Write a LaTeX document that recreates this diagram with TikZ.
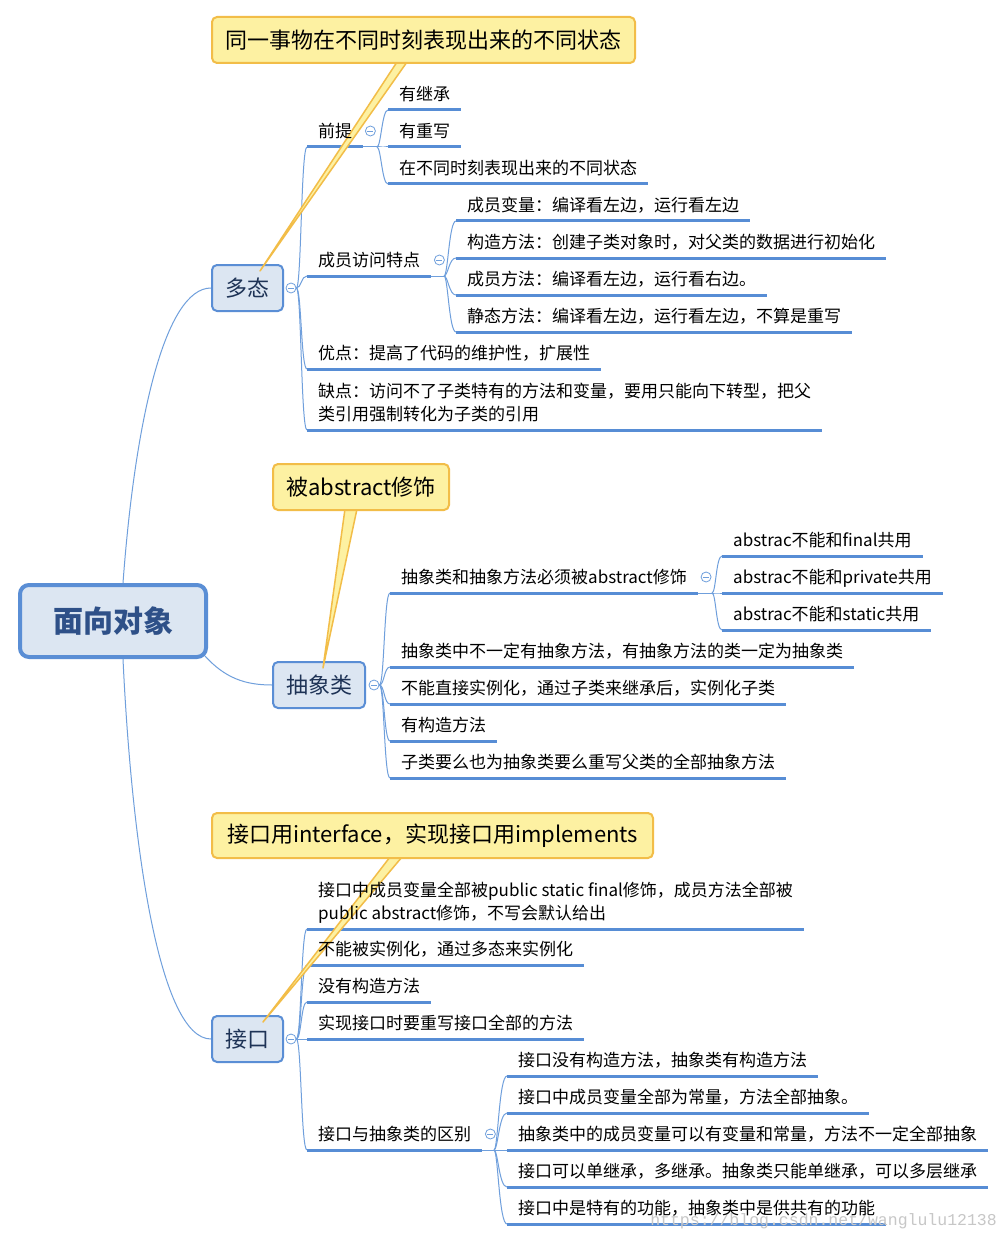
\documentclass[tikz,border=0pt]{standalone}
\usepackage{fontspec}
\setmainfont{Noto Sans CJK SC}
\newfontfamily\wmfont{Liberation Mono}
\usetikzlibrary{calc}
\pgfdeclarelayer{fg}
\pgfsetlayers{main,fg}
\definecolor{boxblue}{RGB}{90,142,213}
\definecolor{boxfill}{RGB}{220,230,242}
\definecolor{connblue}{RGB}{111,159,220}
\definecolor{ublue}{RGB}{87,141,213}
\definecolor{topictext}{RGB}{30,51,86}
\definecolor{roottext}{RGB}{46,80,136}
\definecolor{callfill}{RGB}{253,241,162}
\definecolor{callborder}{RGB}{242,189,72}
\begin{document}
\begin{tikzpicture}[x=1pt,y=-1pt,
  leaf/.style={font=\fontsize{17}{23}\selectfont, inner xsep=11pt, inner ysep=0pt, text height=14pt, text depth=9.5pt, anchor=south west, text=black},
  mleaf/.style={font=\fontsize{17}{23}\selectfont, inner xsep=11pt, inner ysep=0pt, anchor=south west, align=left, text=black},
  topic/.style={draw=boxblue, fill=boxfill, line width=2pt, rounded corners=5pt, font=\fontsize{22}{26}\selectfont, text=topictext, minimum height=46pt, inner xsep=10pt, inner ysep=0pt},
  rootbox/.style={draw=boxblue, fill=boxfill, line width=4pt, rounded corners=9pt, font=\fontsize{30}{36}\selectfont\bfseries, text=roottext, minimum width=186pt, minimum height=72pt},
  callout/.style={draw=callborder, fill=callfill, line width=2pt, rounded corners=5pt, font=\fontsize{22}{26}\selectfont, text=black, minimum height=46pt, inner xsep=12pt, inner ysep=0pt},
  wedge/.style={draw=callborder, fill=callfill, line width=1.5pt, line join=round},
  conn/.style={draw=connblue, line width=1pt},
  uline/.style={draw=ublue, line width=3pt},
  mini/.style={circle, draw=connblue, fill=white, line width=0.8pt, minimum size=10pt, inner sep=0pt,
    path picture={\draw[connblue, line width=0.8pt] ([xshift=2pt]path picture bounding box.west) -- ([xshift=-2pt]path picture bounding box.east);}}
]
\fill[white] (0,0) rectangle (1007,1241);
\useasboundingbox (0,0) rectangle (1007,1241);

% topic boxes
\node[rootbox] (root) at (113,621) {面向对象};
\node[topic, minimum width=71pt] (duotai) at (247.5,288) {多态};
\node[topic, minimum width=92pt] (chouxiang) at (319,685) {抽象类};
\node[topic, minimum width=71pt] (jiekou) at (247.5,1039) {接口};

\begin{pgfonlayer}{fg}
% polymorphism branch
\node[leaf] (d1) at (307,147) {前提};
\node[leaf] (d2) at (307,276) {成员访问特点};
\node[leaf] (d3) at (307,369) {优点：提高了代码的维护性，扩展性};
\node[mleaf] (d4) at (307,430) {\rule{0pt}{14pt}缺点：访问不了子类特有的方法和变量，要用只能向下转型，把父\\类引用强制转化为子类的引用\rule[-9.5pt]{0pt}{9.5pt}};
\node[leaf] (d11) at (388,110) {有继承};
\node[leaf] (d12) at (388,147) {有重写};
\node[leaf] (d13) at (388,184) {在不同时刻表现出来的不同状态};
\node[leaf] (d21) at (456,221) {成员变量：编译看左边，运行看左边};
\node[leaf] (d22) at (456,258) {构造方法：创建子类对象时，对父类的数据进行初始化};
\node[leaf] (d23) at (456,295) {成员方法：编译看左边，运行看右边。};
\node[leaf] (d24) at (456,332) {静态方法：编译看左边，运行看左边，不算是重写};

% abstract branch
\node[leaf] (a1) at (390,593) {抽象类和抽象方法必须被abstract修饰};
\node[leaf] (a2) at (390,667) {抽象类中不一定有抽象方法，有抽象方法的类一定为抽象类};
\node[leaf] (a3) at (390,704) {不能直接实例化，通过子类来继承后，实例化子类};
\node[leaf] (a4) at (390,741) {有构造方法};
\node[leaf] (a5) at (390,778) {子类要么也为抽象类要么重写父类的全部抽象方法};
\node[leaf] (a11) at (722,556) {abstrac不能和final共用};
\node[leaf] (a12) at (722,593) {abstrac不能和private共用};
\node[leaf] (a13) at (722,630) {abstrac不能和static共用};

% interface branch
\node[mleaf] (j1) at (307,929) {\rule{0pt}{14pt}接口中成员变量全部被public static final修饰，成员方法全部被\\public abstract修饰，不写会默认给出\rule[-9.5pt]{0pt}{9.5pt}};
\node[leaf] (j2) at (307,965) {不能被实例化，通过多态来实例化};
\node[leaf] (j3) at (307,1002) {没有构造方法};
\node[leaf] (j4) at (307,1039) {实现接口时要重写接口全部的方法};
\node[leaf] (j5) at (307,1150) {接口与抽象类的区别};
\node[leaf] (j51) at (507,1076) {接口没有构造方法，抽象类有构造方法};
\node[leaf] (j52) at (507,1113) {接口中成员变量全部为常量，方法全部抽象。};
\node[leaf] (j53) at (507,1150) {抽象类中的成员变量可以有变量和常量，方法不一定全部抽象};
\node[leaf] (j54) at (507,1187) {接口可以单继承，多继承。抽象类只能单继承，可以多层继承};
\node[leaf] (j55) at (507,1224) {接口中是特有的功能，抽象类中是供共有的功能};
\end{pgfonlayer}

% root connectors
\draw[conn] ([xshift=10pt]root.north) .. controls (135,420) and (165,288) .. (duotai.west);
\draw[conn] ([xshift=-3pt,yshift=3pt]root.south east) .. controls (225,678) and (245,685) .. (chouxiang.west);
\draw[conn] ([xshift=10pt]root.south) .. controls (132,850) and (160,1039) .. (jiekou.west);

% collapse markers
\node[mini] (c1) at ([xshift=7pt]duotai.east) {};
\node[mini] (c2) at ([xshift=8pt]chouxiang.east) {};
\node[mini] (c3) at ([xshift=7pt]jiekou.east) {};

% branch points
\coordinate (b1a) at (377,147);
\coordinate (b1b) at (444,276);
\coordinate (b2a) at (712,593);
\coordinate (b3a) at (494,1150);

\foreach \n in {d1,d2,d3,d4}
  \draw[conn] (c1.east) .. controls +(5,0) and +(-6,0) .. (\n.south west);
\draw[conn] (d1.south east) -- (b1a);
\foreach \n in {d11,d12,d13}
  \draw[conn] (b1a) .. controls +(4,0) and +(-6,0) .. (\n.south west);
\draw[conn] (d2.south east) -- (b1b);
\foreach \n in {d21,d22,d23,d24}
  \draw[conn] (b1b) .. controls +(4,0) and +(-7,0) .. (\n.south west);

\foreach \n in {a1,a2,a3,a4,a5}
  \draw[conn] (c2.east) .. controls +(5,0) and +(-6,0) .. (\n.south west);
\draw[conn] (a1.south east) -- (b2a);
\foreach \n in {a11,a12,a13}
  \draw[conn] (b2a) .. controls +(4,0) and +(-6,0) .. (\n.south west);

\foreach \n in {j1,j2,j3,j4,j5}
  \draw[conn] (c3.east) .. controls +(5,0) and +(-6,0) .. (\n.south west);
\draw[conn] (j5.south east) -- (b3a);
\foreach \n in {j51,j52,j53,j54,j55}
  \draw[conn] (b3a) .. controls +(4,0) and +(-8,0) .. (\n.south west);

% underlines
\foreach \n in {d1,d2,d3,d4,d11,d12,d13,d21,d22,d23,d24,a1,a2,a3,a4,a5,a11,a12,a13,j1,j2,j3,j4,j5,j51,j52,j53,j54,j55}
  \draw[uline] (\n.south west) -- (\n.south east);

% sub-collapse markers
\node[mini] (c1a) at ([xshift=7pt,yshift=16pt]d1.south east) {};
\node[mini] (c1b) at ([xshift=8pt,yshift=16pt]d2.south east) {};
\node[mini] (c2a) at ([xshift=8pt,yshift=16pt]a1.south east) {};
\node[mini] (c3a) at ([xshift=8pt,yshift=16pt]j5.south east) {};

% callout pointers
\coordinate (call1s) at (423.5,62);
\coordinate (call2s) at (361,509);
\coordinate (call3s) at (432.5,857);
\draw[wedge] ([xshift=-26.5pt]call1s) -- ([xshift=12.5pt,yshift=-7pt]duotai.north) -- ([xshift=-16.5pt]call1s);
\draw[wedge] ([xshift=-16pt]call2s) -- ([xshift=4pt,yshift=-7pt]chouxiang.north) -- ([xshift=-4pt]call2s);
\draw[wedge] ([xshift=-42.5pt]call3s) -- ([xshift=15.5pt,yshift=-7pt]jiekou.north) -- ([xshift=-30.5pt]call3s);

% callouts
\node[callout, minimum width=423pt] (call1) at (423.5,40) {同一事物在不同时刻表现出来的不同状态};
\node[callout, minimum width=176pt] (call2) at (361,487) {被abstract修饰};
\node[callout, minimum width=441pt, minimum height=45pt] (call3) at (432.5,835.5) {接口用interface，实现接口用implements};

% watermark
\node[font=\wmfont\fontsize{16.5}{18}\selectfont, text=black!22, anchor=east, inner sep=0pt] (wm) at (997,1221) {https://blog.csdn.net/wanglulu12138};
\end{tikzpicture}
\end{document}
